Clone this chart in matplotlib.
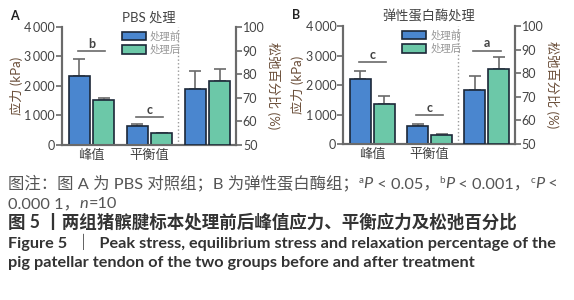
import numpy as np
import matplotlib
matplotlib.use('Agg')
import matplotlib.pyplot as plt
from matplotlib.patches import Patch

plt.rcParams['font.family'] = ['Lato', 'Noto Sans CJK SC', 'DejaVu Sans']

# data
groups = ['峰值', '平衡值']
legend_labels = ['处理前', '处理后']
titles = ['PBS 处理', '弹性蛋白酶处理']
panel_tags = ['A', 'B']

# stress (kPa): [peak, equilibrium]
stress_before = [[2330, 640], [2200, 620]]
stress_before_err = [[570, 80], [270, 50]]
stress_after = [[1530, 395], [1345, 315]]
stress_after_err = [[45, 15], [295, 15]]
# relaxation (%)
relax_before = [73.5, 72.9]
relax_before_err = [7.8, 6.1]
relax_after = [77.3, 81.6]
relax_after_err = [5.1, 5.4]

# significance marks: (group index, y value, letter, on right axis?)
sig_marks = [
    [(0, 3180, 'b', False), (1, 935, 'c', False)],
    [(0, 2770, 'c', False), (1, 970, 'c', False), (2, 89.5, 'a', True)],
]

c_before = '#4a86cf'
c_after = '#6cc8a8'
c_edge = '#1c2838'
c_spine = '#6a6a6a'
c_text = '#444444'

fig = plt.figure(figsize=(5.74, 3.0), dpi=100)

ax_boxes = [[0.108, 0.517, 0.303, 0.393], [0.598, 0.52, 0.299, 0.393]]
w = 0.37
off = 0.21

for p in range(2):
    ax = fig.add_axes(ax_boxes[p])
    ax2 = ax.twinx()
    x = np.arange(2)
    ax.bar(x - off, stress_before[p], w, color=c_before, edgecolor=c_edge, linewidth=1.2, zorder=3)
    ax.bar(x + off, stress_after[p], w, color=c_after, edgecolor=c_edge, linewidth=1.2, zorder=3)
    ax.errorbar(x - off, stress_before[p], yerr=[[0, 0], stress_before_err[p]], fmt='none',
                ecolor=c_spine, elinewidth=1.2, capsize=4.5, capthick=1.2, zorder=2)
    ax.errorbar(x + off, stress_after[p], yerr=[[0, 0], stress_after_err[p]], fmt='none',
                ecolor=c_spine, elinewidth=1.2, capsize=4.5, capthick=1.2, zorder=2)
    ax2.bar(2 - off, relax_before[p] - 50, w, bottom=50, color=c_before, edgecolor=c_edge, linewidth=1.2, zorder=3)
    ax2.bar(2 + off, relax_after[p] - 50, w, bottom=50, color=c_after, edgecolor=c_edge, linewidth=1.2, zorder=3)
    ax2.errorbar([2 - off], [relax_before[p]], yerr=[[0], [relax_before_err[p]]], fmt='none',
                 ecolor=c_spine, elinewidth=1.2, capsize=4.5, capthick=1.2, zorder=2)
    ax2.errorbar([2 + off], [relax_after[p]], yerr=[[0], [relax_after_err[p]]], fmt='none',
                 ecolor=c_spine, elinewidth=1.2, capsize=4.5, capthick=1.2, zorder=2)

    ax.set_xlim(-0.51, 2.49)
    ax.set_ylim(0, 4000)
    ax2.set_ylim(50, 100)
    ax.set_yticks([0, 1000, 2000, 3000, 4000])
    ax.set_yticklabels(['0', '1\u2009000', '2\u2009000', '3\u2009000', '4\u2009000'])
    ax2.set_yticks([50, 60, 70, 80, 90, 100])
    ax.set_xticks([0, 1])
    ax.set_xticklabels(groups, fontsize=9.5, color=c_text)
    ax.tick_params(axis='x', length=0, pad=3)
    for a in (ax, ax2):
        a.tick_params(axis='y', length=4, width=1.2, color=c_spine, labelsize=9,
                      labelcolor=c_text, pad=1)
        a.spines['top'].set_visible(False)
        for s in ['left', 'right', 'bottom']:
            a.spines[s].set_color(c_spine)
            a.spines[s].set_linewidth(1.5)
    ax.axvline(1.49, color='#999999', linestyle=':', linewidth=1.0, zorder=1)

    ax.set_ylabel('应力 (kPa)', fontsize=9.5, color='#6b4f3a', labelpad=1)
    ax2.set_ylabel('松弛百分比 (%)', fontsize=9.5, color='#6b4f3a', rotation=270, labelpad=11)
    ax.set_title(titles[p], fontsize=9.5, color=c_text, pad=4)
    ax.text(-0.3, 1.04, panel_tags[p], transform=ax.transAxes, fontsize=9,
            fontweight='bold', color='#222222', va='bottom')

    for gi, yv, letter, right in sig_marks[p]:
        target = ax2 if right else ax
        target.plot([gi - 0.24, gi + 0.24], [yv, yv], color=c_spine, linewidth=1.2, zorder=4)
        target.annotate(letter, (gi, yv), xytext=(0, 1), textcoords='offset points',
                        ha='center', va='bottom', fontsize=9, fontweight='bold', color=c_text)

    handles = [Patch(facecolor=c_before, edgecolor=c_edge, linewidth=1.2),
               Patch(facecolor=c_after, edgecolor=c_edge, linewidth=1.2)]
    leg = ax2.legend(handles, legend_labels, loc='upper left', bbox_to_anchor=(0.32, 1.0),
                     frameon=False, fontsize=7.5, handlelength=2.3, handleheight=0.9,
                     handletextpad=0.4, labelspacing=0.3, borderaxespad=0)
    for t in leg.get_texts():
        t.set_color('#999999')

# caption, drawn piece by piece, each line scaled to the width seen in the reference
renderer = fig.canvas.get_renderer()
W, H = 574, 300


def rich_line(x0, y_px, pieces, base_size, color, weight='normal'):
    x = x0
    made = []
    for txt, style in pieces:
        size = base_size
        dy = 0
        kw = {}
        if 'sup' in style:
            size = base_size * 0.6
            dy = base_size * 0.42
        if 'it' in style:
            kw['style'] = 'italic'
        t = fig.text(x / W, 1 - (y_px - dy) / H, txt, fontsize=size, color=color,
                     fontweight=weight, va='baseline', ha='left', **kw)
        x += t.get_window_extent(renderer).width
        made.append(t)
    return made, x


def fitted_size(pieces, x0, x_end, weight='normal'):
    made, x = rich_line(x0, 0, pieces, 10, 'k', weight)
    for t in made:
        t.remove()
    return 10 * (x_end - x0) / (x - x0)


cap1 = [('图注：图 A 为 PBS 对照组；B 为弹性蛋白酶组；', ''), ('a', 'sup'), ('P', 'it'),
        (' < 0.05，', ''), ('b', 'sup'), ('P', 'it'), (' < 0.001，', ''), ('c', 'sup'),
        ('P', 'it'), (' <', '')]
cap2 = [('0.000 1，', ''), ('n', 'it'), ('=10', '')]
cap3 = [('图 5 丨两组猪髌腱标本处理前后峰值应力、平衡应力及松弛百分比', '')]
cap4 = [('Figure 5  ｜  Peak stress, equilibrium stress and relaxation percentage of the', '')]
cap5 = [('pig patellar tendon of the two groups before and after treatment', '')]

s1 = fitted_size(cap1, 8, 557)
s3 = fitted_size(cap3, 8, 517, 'bold')
s4 = fitted_size(cap4, 8, 555, 'bold')
rich_line(8, 188, cap1, s1, '#555555')
rich_line(8, 208, cap2, s1, '#555555')
rich_line(8, 228, cap3, s3, '#333333', 'bold')
rich_line(8, 248, cap4, s4, '#333333', 'bold')
rich_line(8, 267, cap5, s4, '#333333', 'bold')

fig.savefig('out.png', dpi=100)
plt.close('all')
